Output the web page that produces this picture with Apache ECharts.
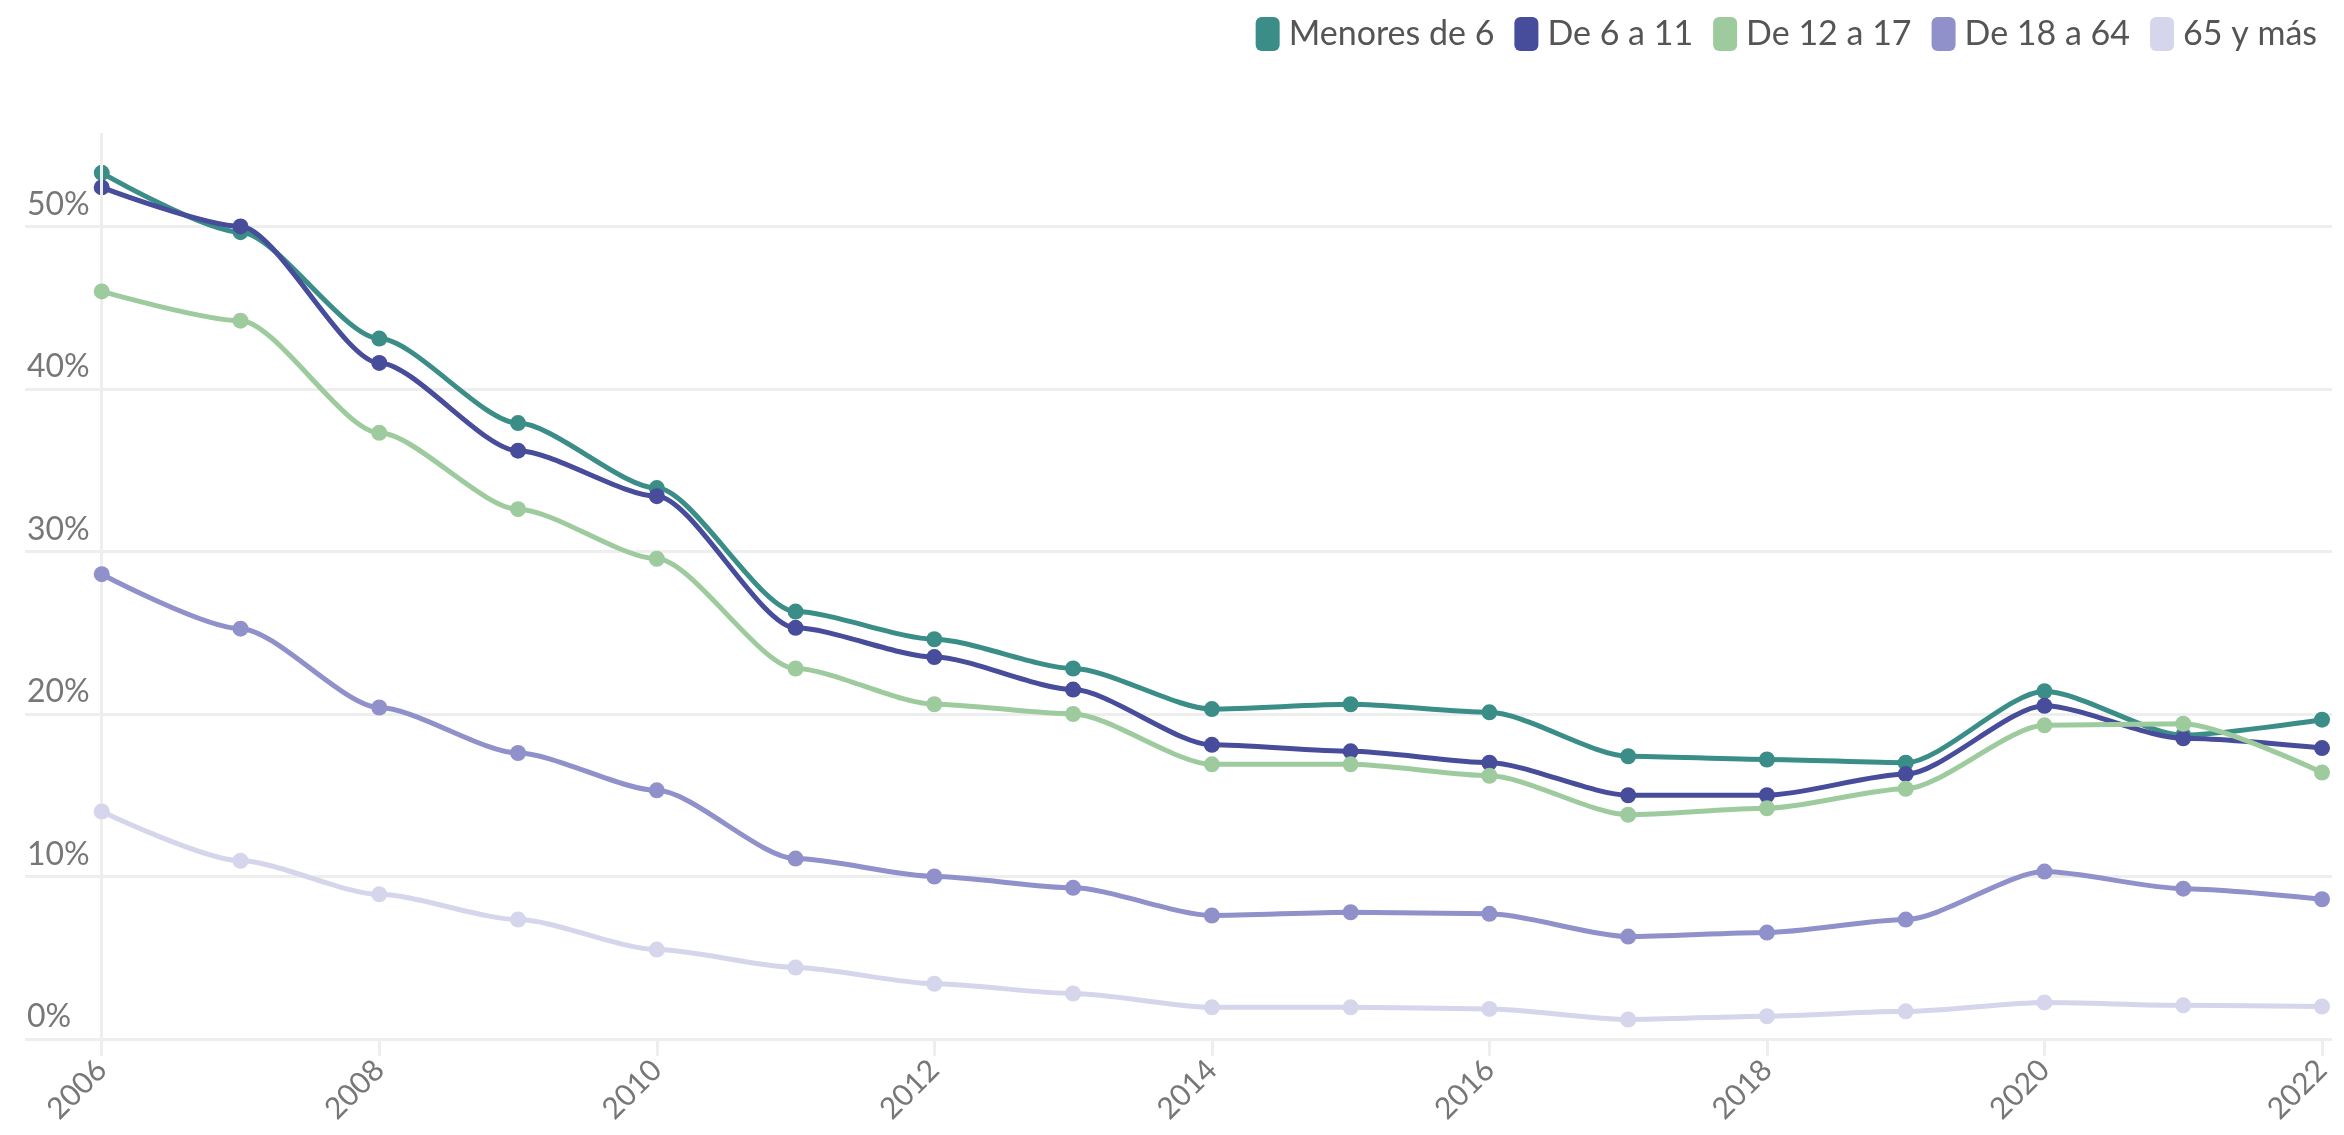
<!DOCTYPE html>
<html>
<head>
<meta charset="utf-8">
<script src="https://cdn.jsdelivr.net/npm/echarts@6/dist/echarts.min.js"></script>
<style>
  html, body { margin: 0; padding: 0; background: #ffffff; }
  #chart { width: 2344px; height: 1135px; }
</style>
</head>
<body>
<div id="chart"></div>
<script>
const years = [2006, 2007, 2008, 2009, 2010, 2011, 2012, 2013, 2014, 2015, 2016, 2017, 2018, 2019, 2020, 2021, 2022];
const xTickYears = [2006, 2008, 2010, 2012, 2014, 2016, 2018, 2020, 2022];
const seriesNames = ['Menores de 6', 'De 6 a 11', 'De 12 a 17', 'De 18 a 64', '65 y más'];
const menores6 = [53.3, 49.65, 43.1, 37.9, 33.9, 26.3, 24.6, 22.8, 20.3, 20.6, 20.1, 17.4, 17.2, 17.0, 21.4, 18.7, 19.65];
const de6a11   = [52.4, 50.0, 41.6, 36.2, 33.4, 25.3, 23.5, 21.5, 18.1, 17.7, 17.0, 15.0, 15.0, 16.3, 20.5, 18.5, 17.9];
const de12a17  = [46.0, 44.2, 37.3, 32.6, 29.55, 22.8, 20.6, 20.0, 16.9, 16.9, 16.2, 13.8, 14.2, 15.4, 19.3, 19.4, 16.4];
const de18a64  = [28.6, 25.25, 20.4, 17.6, 15.3, 11.1, 10.0, 9.3, 7.6, 7.8, 7.7, 6.3, 6.55, 7.35, 10.3, 9.25, 8.6];
const mas65    = [14.0, 10.97, 8.9, 7.35, 5.5, 4.4, 3.4, 2.8, 1.95, 1.95, 1.85, 1.2, 1.4, 1.7, 2.25, 2.07, 2.0];
const yTicks = [0, 10, 20, 30, 40, 50];

const allValues = [menores6, de6a11, de12a17, de18a64, mas65];
const colors = ['#3b8e87', '#474c9b', '#9dcb9e', '#9090ca', '#d5d5ec'];
const FONT = 'Lato';

const chart = echarts.init(document.getElementById('chart'), null, { renderer: 'canvas' });

const lineSeries = seriesNames.map((name, i) => ({
  name: name,
  type: 'line',
  data: years.map((y, j) => [y, allValues[i][j]]),
  smooth: 0.25,
  smoothMonotone: 'x',
  symbol: 'circle',
  symbolSize: 16,
  showSymbol: true,
  lineStyle: { width: 5, color: colors[i] },
  itemStyle: { color: colors[i] },
  emphasis: { disabled: true },
  z: 3 + i
}));

const option = {
  backgroundColor: '#ffffff',
  animation: false,
  textStyle: { fontFamily: FONT },
  grid: { left: 25, right: 12, top: 133, bottom: 96, containLabel: false },
  legend: {
    data: seriesNames,
    right: 22,
    top: 12,
    icon: 'roundRect',
    itemWidth: 24,
    itemHeight: 34,
    itemGap: 20,
    selectedMode: false,
    textStyle: { fontFamily: FONT, fontSize: 34, color: '#555555', padding: [0, 0, 0, 4] }
  },
  xAxis: {
    type: 'value',
    min: 2005.447,
    max: 2022.072,
    splitLine: { show: false },
    axisLine: { show: false },
    axisTick: {
      show: true,
      customValues: xTickYears,
      length: 17,
      lineStyle: { color: '#eeeeee', width: 3 }
    },
    axisLabel: {
      show: true,
      customValues: xTickYears,
      rotate: 45,
      margin: 26,
      fontFamily: FONT,
      fontSize: 30,
      color: '#777777',
      formatter: v => String(v)
    }
  },
  yAxis: {
    type: 'value',
    min: 0,
    max: 55.75,
    interval: 10,
    axisLine: { show: false },
    axisTick: { show: false },
    splitLine: {
      show: true,
      lineStyle: { color: ['#eeeeee', '#eeeeee', '#eeeeee', '#eeeeee', '#eeeeee', '#eeeeee', 'rgba(0,0,0,0)'], width: 3 }
    },
    axisLabel: {
      inside: true,
      margin: 2,
      align: 'left',
      verticalAlign: 'bottom',
      fontFamily: FONT,
      fontSize: 32,
      lineHeight: 32,
      padding: [0, 0, 6, 0],
      color: '#777777',
      formatter: v => (yTicks.indexOf(v) >= 0 ? v + '%' : '')
    }
  },
  series: [
    {
      name: 'axis2006',
      type: 'line',
      data: [],
      silent: true,
      z: 1,
      markLine: {
        silent: true,
        symbol: ['none', 'none'],
        label: { show: false },
        lineStyle: { color: '#eeeeee', width: 3, type: 'solid' },
        data: [{ xAxis: years[0] }]
      }
    }
  ].concat(lineSeries)
};

chart.setOption(option);
</script>
</body>
</html>
